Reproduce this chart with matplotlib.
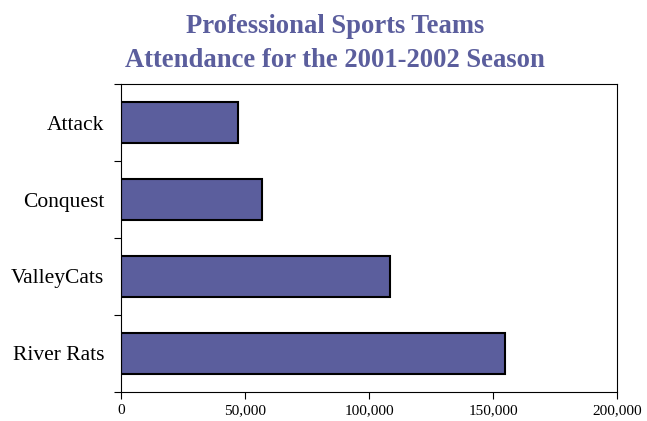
import matplotlib.pyplot as plt
import numpy as np

teams = ['Attack', 'Conquest', 'ValleyCats', 'River Rats']
attendance = [47000, 57000, 108500, 155000]
xticks = [0, 50000, 100000, 150000, 200000]

plt.rcParams['font.family'] = 'Liberation Serif'

fig = plt.figure(figsize=(6.47, 4.21), dpi=100)
ax = fig.add_axes([121 / 647, 1 - 392 / 421, 496 / 647, 308 / 421])

pos = np.arange(len(teams))
ax.barh(pos, attendance, height=0.53, color='#5B5E9D', edgecolor='black', linewidth=1.5)

ax.set_xlim(0, 200000)
ax.set_ylim(len(teams) - 0.5, -0.5)
ax.set_xticks(xticks)
ax.set_xticklabels([f'{v:,}' for v in xticks], fontsize=11)
ax.set_yticks(pos)
ax.set_yticklabels(teams, fontsize=15.5)
ax.set_yticks(np.arange(len(teams) + 1) - 0.5, minor=True)
ax.tick_params(axis='y', which='major', length=0, pad=12)
ax.tick_params(axis='y', which='minor', length=5, width=0.8, direction='out')
ax.tick_params(axis='x', length=5, width=0.8, direction='out', pad=4)
for s in ax.spines.values():
    s.set_linewidth(0.8)

fig.suptitle('Professional Sports Teams\nAttendance for the 2001-2002 Season',
             x=0.518, y=0.966, fontsize=19.2, fontweight='bold', color='#5B5E9D',
             linespacing=1.45)

fig.savefig('out.png', dpi=100)
